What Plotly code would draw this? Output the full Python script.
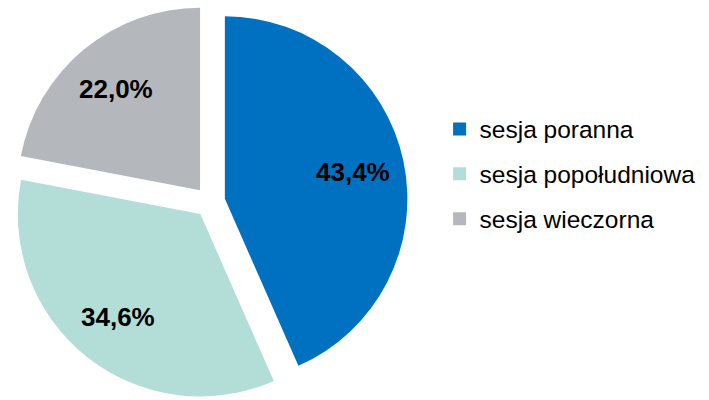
import numpy as np
import plotly.graph_objects as go

labels = ["sesja poranna", "sesja popołudniowa", "sesja wieczorna"]
values = [43.4, 34.6, 22.0]
colors = ["#0070C0", "#B3DED8", "#B4B8BC"]

W, H = 709, 400
pull = 0.084
dom_x = [0.017, 0.575]
dom_y = [0.0, 0.99]

fig = go.Figure()

fig.add_trace(go.Pie(
    labels=labels,
    values=values,
    sort=False,
    direction="clockwise",
    rotation=0,
    pull=[pull] * len(values),
    marker=dict(colors=colors, line=dict(width=0)),
    textinfo="none",
    domain=dict(x=dom_x, y=dom_y),
    showlegend=False,
    hoverinfo="label+percent",
))

# percentage labels placed toward the outer part of each slice, like the original
vals = np.array(values)
frac = vals / vals.sum()
mid = (np.cumsum(frac) - frac / 2) * 2 * np.pi  # clockwise from 12 o'clock
cx = (dom_x[0] + dom_x[1]) / 2 * W
cy = (dom_y[0] + dom_y[1]) / 2 * H
r = min((dom_x[1] - dom_x[0]) * W, (dom_y[1] - dom_y[0]) * H) / 2 / (1 + pull)
dist = (pull + 0.72) * r
for f, a in zip(frac, mid):
    fig.add_annotation(
        x=(cx + dist * np.sin(a)) / W,
        y=(cy + dist * np.cos(a)) / H,
        xref="paper", yref="paper",
        xanchor="center", yanchor="middle",
        text=f"{f * 100:.1f}%".replace(".", ","),
        showarrow=False,
        font=dict(family="Liberation Sans", size=26, color="black", weight="bold"),
    )

# legend entries as separate dummy traces so the gap between them can be set
for name, col in zip(labels, colors):
    fig.add_trace(go.Scatter(
        x=[None], y=[None], mode="markers", name=name,
        legendgroup=name,
        marker=dict(symbol="square", size=13, color=col),
    ))

fig.update_layout(
    width=W, height=H,
    margin=dict(l=0, r=0, t=0, b=0),
    paper_bgcolor="white",
    plot_bgcolor="white",
    xaxis=dict(visible=False),
    yaxis=dict(visible=False),
    legend=dict(
        x=0.62, y=0.565, xanchor="left", yanchor="middle",
        font=dict(family="Liberation Sans", size=24.5, color="black"),
        tracegroupgap=10,
        itemwidth=30,
    ),
)

# drop the default 8px page margin so the figure sits at the window's corner
fig.write_html(
    "out.html",
    config={"displayModeBar": False},
    post_script="document.body.style.margin='0';",
)
